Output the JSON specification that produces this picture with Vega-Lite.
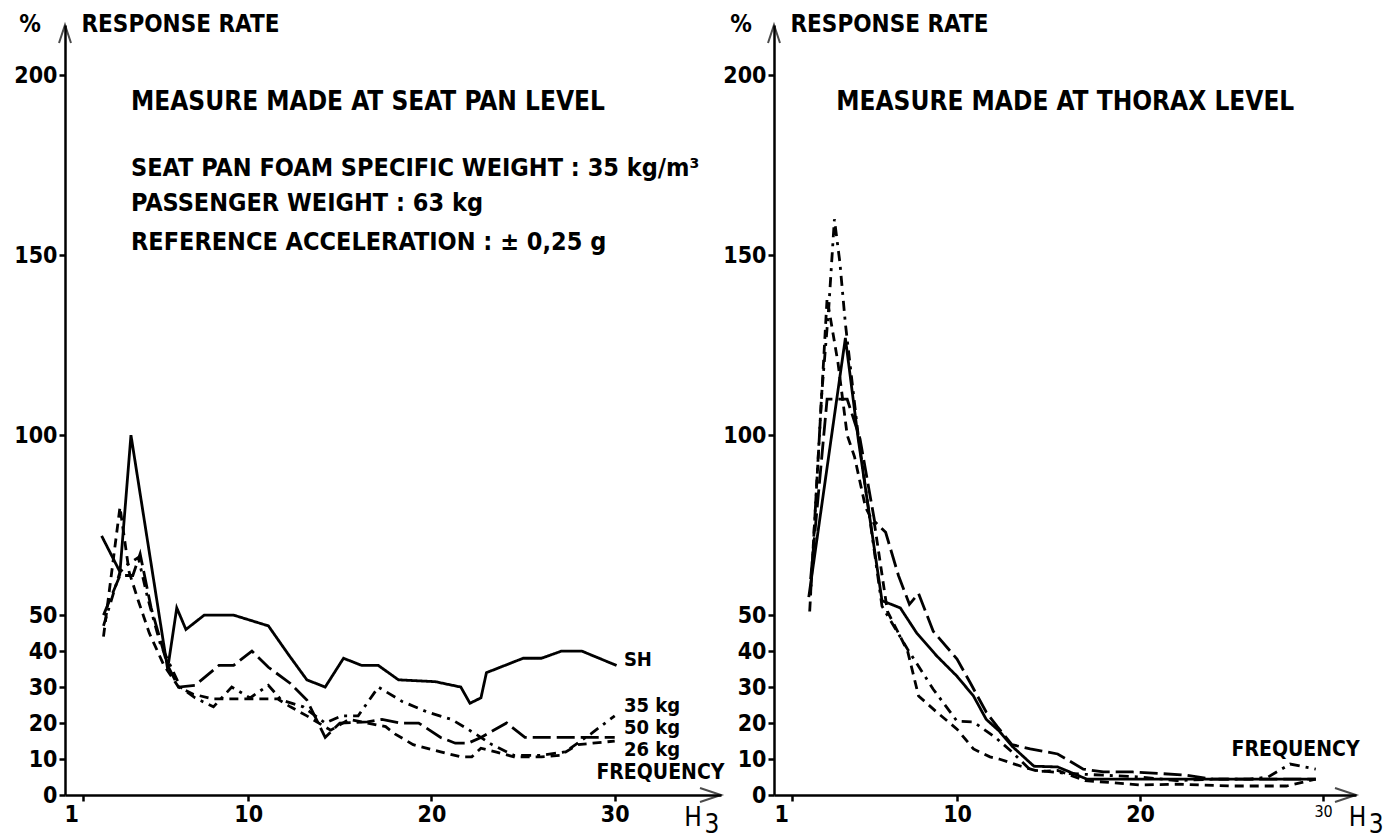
{
  "$schema": "https://vega.github.io/schema/vega-lite/v6.json",
  "autosize": {"type": "pad"},
  "padding": {"left": 13, "top": 13, "right": 5, "bottom": 5},
  "background": "white",
  "spacing": 53,
  "bounds": "flush",
  "config": {
    "view": {"stroke": null},
    "axis": {"domainColor": "black", "domainWidth": 2.5, "tickColor": "black", "tickWidth": 2.5, "labelColor": "black", "labelFont": "DejaVu Sans Condensed", "labelFontWeight": "bold", "labelFontSize": 23, "grid": false, "tickSize": 6, "labelPadding": 2},
    "text": {"font": "DejaVu Sans Condensed", "fontWeight": "bold", "fontSize": 25, "color": "black", "align": "left", "baseline": "middle"}
  },
  "datasets": {
    "left": [
      {"s": "SH", "f": 2, "r": 72}, {"s": "SH", "f": 3, "r": 62}, {"s": "SH", "f": 3.6, "r": 100}, {"s": "SH", "f": 5.6, "r": 35}, {"s": "SH", "f": 6.1, "r": 52}, {"s": "SH", "f": 6.6, "r": 46}, {"s": "SH", "f": 7.6, "r": 50}, {"s": "SH", "f": 9.2, "r": 50}, {"s": "SH", "f": 11.1, "r": 47}, {"s": "SH", "f": 12.2, "r": 39}, {"s": "SH", "f": 13.2, "r": 32}, {"s": "SH", "f": 14.2, "r": 30}, {"s": "SH", "f": 15.2, "r": 38}, {"s": "SH", "f": 16.2, "r": 36}, {"s": "SH", "f": 17.1, "r": 36}, {"s": "SH", "f": 18.2, "r": 32}, {"s": "SH", "f": 20.2, "r": 31.5}, {"s": "SH", "f": 21.6, "r": 30}, {"s": "SH", "f": 22.1, "r": 25.5}, {"s": "SH", "f": 22.7, "r": 27}, {"s": "SH", "f": 23, "r": 34}, {"s": "SH", "f": 25, "r": 38}, {"s": "SH", "f": 26, "r": 38}, {"s": "SH", "f": 27.1, "r": 40}, {"s": "SH", "f": 28.2, "r": 40}, {"s": "SH", "f": 30.1, "r": 36},
      {"s": "50 kg", "f": 2.1, "r": 50}, {"s": "50 kg", "f": 3, "r": 61}, {"s": "50 kg", "f": 3.7, "r": 61}, {"s": "50 kg", "f": 4.1, "r": 67}, {"s": "50 kg", "f": 4.7, "r": 52}, {"s": "50 kg", "f": 5.6, "r": 36}, {"s": "50 kg", "f": 6.2, "r": 30}, {"s": "50 kg", "f": 7.1, "r": 30.5}, {"s": "50 kg", "f": 8.4, "r": 36}, {"s": "50 kg", "f": 9.2, "r": 36}, {"s": "50 kg", "f": 10.2, "r": 40}, {"s": "50 kg", "f": 11.1, "r": 35.5}, {"s": "50 kg", "f": 12.3, "r": 31}, {"s": "50 kg", "f": 13.2, "r": 26.4}, {"s": "50 kg", "f": 14.2, "r": 16}, {"s": "50 kg", "f": 15, "r": 20}, {"s": "50 kg", "f": 16.5, "r": 20.3}, {"s": "50 kg", "f": 17.3, "r": 21}, {"s": "50 kg", "f": 18.3, "r": 20}, {"s": "50 kg", "f": 19.3, "r": 20}, {"s": "50 kg", "f": 20.5, "r": 16}, {"s": "50 kg", "f": 21.3, "r": 14.4}, {"s": "50 kg", "f": 22, "r": 14.4}, {"s": "50 kg", "f": 22.7, "r": 16}, {"s": "50 kg", "f": 24.1, "r": 20}, {"s": "50 kg", "f": 25.1, "r": 16}, {"s": "50 kg", "f": 30, "r": 16},
      {"s": "35 kg", "f": 2.1, "r": 47}, {"s": "35 kg", "f": 3, "r": 62}, {"s": "35 kg", "f": 3.4, "r": 64}, {"s": "35 kg", "f": 4, "r": 66}, {"s": "35 kg", "f": 4.5, "r": 55}, {"s": "35 kg", "f": 5.2, "r": 42}, {"s": "35 kg", "f": 6.3, "r": 30}, {"s": "35 kg", "f": 7.1, "r": 27}, {"s": "35 kg", "f": 8.1, "r": 24.5}, {"s": "35 kg", "f": 9.1, "r": 30}, {"s": "35 kg", "f": 10.1, "r": 27}, {"s": "35 kg", "f": 11.1, "r": 30.5}, {"s": "35 kg", "f": 11.8, "r": 26.4}, {"s": "35 kg", "f": 13, "r": 24.5}, {"s": "35 kg", "f": 14.2, "r": 20}, {"s": "35 kg", "f": 15.1, "r": 22}, {"s": "35 kg", "f": 16, "r": 22}, {"s": "35 kg", "f": 17.1, "r": 30}, {"s": "35 kg", "f": 18.4, "r": 26}, {"s": "35 kg", "f": 19.8, "r": 23}, {"s": "35 kg", "f": 21.1, "r": 21}, {"s": "35 kg", "f": 22.4, "r": 17}, {"s": "35 kg", "f": 23.3, "r": 14}, {"s": "35 kg", "f": 24.5, "r": 11}, {"s": "35 kg", "f": 26, "r": 11}, {"s": "35 kg", "f": 27.3, "r": 12}, {"s": "35 kg", "f": 28.7, "r": 17}, {"s": "35 kg", "f": 30, "r": 22},
      {"s": "26 kg", "f": 2.1, "r": 44}, {"s": "26 kg", "f": 3, "r": 80}, {"s": "26 kg", "f": 3.5, "r": 62}, {"s": "26 kg", "f": 4, "r": 54}, {"s": "26 kg", "f": 4.6, "r": 45}, {"s": "26 kg", "f": 5.4, "r": 36}, {"s": "26 kg", "f": 6.2, "r": 30}, {"s": "26 kg", "f": 7, "r": 28}, {"s": "26 kg", "f": 8.1, "r": 26.7}, {"s": "26 kg", "f": 11.6, "r": 26.7}, {"s": "26 kg", "f": 12.3, "r": 24.5}, {"s": "26 kg", "f": 13.2, "r": 22}, {"s": "26 kg", "f": 14.5, "r": 18}, {"s": "26 kg", "f": 15.5, "r": 21}, {"s": "26 kg", "f": 16.5, "r": 20}, {"s": "26 kg", "f": 17.5, "r": 19}, {"s": "26 kg", "f": 18, "r": 17}, {"s": "26 kg", "f": 19, "r": 14}, {"s": "26 kg", "f": 20.5, "r": 12}, {"s": "26 kg", "f": 21.6, "r": 10.6}, {"s": "26 kg", "f": 22.2, "r": 10.6}, {"s": "26 kg", "f": 22.7, "r": 13}, {"s": "26 kg", "f": 23.5, "r": 12}, {"s": "26 kg", "f": 24.5, "r": 10.6}, {"s": "26 kg", "f": 26, "r": 10.6}, {"s": "26 kg", "f": 27, "r": 11}, {"s": "26 kg", "f": 28, "r": 14}, {"s": "26 kg", "f": 28.8, "r": 14.4}, {"s": "26 kg", "f": 30, "r": 15}
    ],
    "right": [
      {"s": "solid", "f": 1.9, "r": 55}, {"s": "solid", "f": 3.9, "r": 127}, {"s": "solid", "f": 4.6, "r": 99}, {"s": "solid", "f": 5.9, "r": 54}, {"s": "solid", "f": 6.9, "r": 52}, {"s": "solid", "f": 7.8, "r": 45}, {"s": "solid", "f": 8.9, "r": 38.6}, {"s": "solid", "f": 10, "r": 33}, {"s": "solid", "f": 10.9, "r": 27.5}, {"s": "solid", "f": 11.6, "r": 21}, {"s": "solid", "f": 12.3, "r": 17.8}, {"s": "solid", "f": 13, "r": 13.6}, {"s": "solid", "f": 14.2, "r": 8}, {"s": "solid", "f": 15.5, "r": 7.8}, {"s": "solid", "f": 17.1, "r": 4.4}, {"s": "solid", "f": 20, "r": 4.4}, {"s": "solid", "f": 25, "r": 4.4}, {"s": "solid", "f": 29.6, "r": 4.4},
      {"s": "longdash", "f": 2.0, "r": 60}, {"s": "longdash", "f": 2.9, "r": 110}, {"s": "longdash", "f": 4, "r": 110}, {"s": "longdash", "f": 4.7, "r": 99}, {"s": "longdash", "f": 5.5, "r": 76}, {"s": "longdash", "f": 6.1, "r": 73}, {"s": "longdash", "f": 6.8, "r": 61}, {"s": "longdash", "f": 7.4, "r": 53}, {"s": "longdash", "f": 7.9, "r": 56}, {"s": "longdash", "f": 8.7, "r": 45.5}, {"s": "longdash", "f": 10, "r": 37.8}, {"s": "longdash", "f": 10.7, "r": 31.4}, {"s": "longdash", "f": 11.6, "r": 23}, {"s": "longdash", "f": 12.2, "r": 19}, {"s": "longdash", "f": 13, "r": 14}, {"s": "longdash", "f": 14, "r": 12.8}, {"s": "longdash", "f": 15.5, "r": 11.4}, {"s": "longdash", "f": 16.9, "r": 7.2}, {"s": "longdash", "f": 18, "r": 6.4}, {"s": "longdash", "f": 19.6, "r": 6.4}, {"s": "longdash", "f": 21, "r": 6}, {"s": "longdash", "f": 22.5, "r": 5.5}, {"s": "longdash", "f": 24, "r": 4.4}, {"s": "longdash", "f": 26, "r": 4.4}, {"s": "longdash", "f": 29.6, "r": 4.4},
      {"s": "dashdot", "f": 1.95, "r": 51}, {"s": "dashdot", "f": 2.6, "r": 111}, {"s": "dashdot", "f": 3, "r": 136}, {"s": "dashdot", "f": 3.3, "r": 160}, {"s": "dashdot", "f": 3.6, "r": 148}, {"s": "dashdot", "f": 3.9, "r": 131}, {"s": "dashdot", "f": 4.6, "r": 100}, {"s": "dashdot", "f": 5.9, "r": 52.5}, {"s": "dashdot", "f": 7.3, "r": 40.5}, {"s": "dashdot", "f": 8.7, "r": 29.4}, {"s": "dashdot", "f": 10, "r": 20.5}, {"s": "dashdot", "f": 10.9, "r": 20.3}, {"s": "dashdot", "f": 12.1, "r": 16}, {"s": "dashdot", "f": 13, "r": 12}, {"s": "dashdot", "f": 14, "r": 7}, {"s": "dashdot", "f": 16, "r": 6}, {"s": "dashdot", "f": 18, "r": 5.5}, {"s": "dashdot", "f": 20, "r": 5}, {"s": "dashdot", "f": 22, "r": 4}, {"s": "dashdot", "f": 24, "r": 4.4}, {"s": "dashdot", "f": 26, "r": 4.4}, {"s": "dashdot", "f": 27, "r": 5}, {"s": "dashdot", "f": 28.2, "r": 8.6}, {"s": "dashdot", "f": 29.6, "r": 7.2},
      {"s": "shortdash", "f": 2.0, "r": 56}, {"s": "shortdash", "f": 2.9, "r": 138}, {"s": "shortdash", "f": 3.5, "r": 120}, {"s": "shortdash", "f": 4, "r": 100}, {"s": "shortdash", "f": 4.4, "r": 94}, {"s": "shortdash", "f": 5, "r": 80}, {"s": "shortdash", "f": 5.5, "r": 75}, {"s": "shortdash", "f": 6.2, "r": 51}, {"s": "shortdash", "f": 7.3, "r": 40}, {"s": "shortdash", "f": 7.9, "r": 27.5}, {"s": "shortdash", "f": 8.9, "r": 23}, {"s": "shortdash", "f": 10, "r": 18.3}, {"s": "shortdash", "f": 10.9, "r": 12.8}, {"s": "shortdash", "f": 11.8, "r": 10.6}, {"s": "shortdash", "f": 12.3, "r": 10}, {"s": "shortdash", "f": 13.5, "r": 8}, {"s": "shortdash", "f": 14.5, "r": 6.5}, {"s": "shortdash", "f": 15.5, "r": 6.8}, {"s": "shortdash", "f": 17, "r": 4}, {"s": "shortdash", "f": 20, "r": 2.8}, {"s": "shortdash", "f": 22, "r": 3}, {"s": "shortdash", "f": 25, "r": 2.5}, {"s": "shortdash", "f": 28, "r": 2.5}, {"s": "shortdash", "f": 29.6, "r": 4.4}
    ]
  },
  "hconcat": [
    {
      "width": 656,
      "height": 770,
      "encoding": {
        "x": {"type": "quantitative", "title": null, "scale": {"domain": [0, 35.8], "nice": false, "zero": false},
              "axis": {"values": [1, 10, 20, 30], "labelOffset": {"condition": {"test": "datum.value == 1", "value": -12}, "value": 0}}},
        "y": {"type": "quantitative", "title": null, "scale": {"domain": [0, 214], "nice": false, "zero": false},
              "axis": {"values": [0, 10, 20, 30, 40, 50, 100, 150, 200]}}
      },
      "layer": [
        {
          "data": {"name": "left"},
          "mark": {"type": "line", "color": "black", "strokeWidth": 2.8},
          "encoding": {
            "x": {"field": "f", "type": "quantitative"},
            "y": {"field": "r", "type": "quantitative"},
            "strokeDash": {"field": "s", "type": "nominal", "legend": null,
              "scale": {"domain": ["SH", "50 kg", "35 kg", "26 kg"], "range": [[1, 0], [18, 6], [10, 6, 3, 6], [9, 6]]}}
          }
        },
        {
          "data": {"values": [{}]},
          "mark": {"type": "point", "shape": "M-1,3L0,0L1,3", "size": 144, "filled": false, "stroke": "black", "strokeWidth": 2, "clip": false},
          "encoding": {"x": {"datum": 0}, "y": {"datum": 214}}
        },
        {
          "data": {"values": [{}]},
          "mark": {"type": "point", "shape": "M-3,-1L0,0L-3,1", "size": 196, "filled": false, "stroke": "black", "strokeWidth": 2, "clip": false},
          "encoding": {"x": {"datum": 35.8}, "y": {"datum": 0}}
        },
        {"data": {"values": [{}]}, "mark": {"type": "text", "text": "%", "align": "center", "fontSize": 24}, "encoding": {"x": {"datum": -1.9}, "y": {"datum": 214}}},
        {"data": {"values": [{}]}, "mark": {"type": "text", "text": "RESPONSE RATE", "fontSize": 24}, "encoding": {"x": {"datum": 0.9}, "y": {"datum": 214}}},
        {"data": {"values": [{}]}, "mark": {"type": "text", "text": "MEASURE MADE AT SEAT PAN LEVEL", "fontSize": 26}, "encoding": {"x": {"datum": 3.6}, "y": {"datum": 192.5}}},
        {"data": {"values": [{}]}, "mark": {"type": "text", "text": "SEAT PAN FOAM SPECIFIC WEIGHT : 35 kg/m³"}, "encoding": {"x": {"datum": 3.6}, "y": {"datum": 174.2}}},
        {"data": {"values": [{}]}, "mark": {"type": "text", "text": "PASSENGER WEIGHT : 63 kg"}, "encoding": {"x": {"datum": 3.6}, "y": {"datum": 164.4}}},
        {"data": {"values": [{}]}, "mark": {"type": "text", "text": "REFERENCE ACCELERATION : ± 0,25 g"}, "encoding": {"x": {"datum": 3.6}, "y": {"datum": 153.6}}},
        {"data": {"values": [{}]}, "mark": {"type": "text", "text": "SH", "fontSize": 20}, "encoding": {"x": {"datum": 30.5}, "y": {"datum": 37.5}}},
        {"data": {"values": [{}]}, "mark": {"type": "text", "text": "35 kg", "fontSize": 20}, "encoding": {"x": {"datum": 30.5}, "y": {"datum": 24.6}}},
        {"data": {"values": [{}]}, "mark": {"type": "text", "text": "50 kg", "fontSize": 20}, "encoding": {"x": {"datum": 30.5}, "y": {"datum": 18.6}}},
        {"data": {"values": [{}]}, "mark": {"type": "text", "text": "26 kg", "fontSize": 20}, "encoding": {"x": {"datum": 30.5}, "y": {"datum": 12.6}}},
        {"data": {"values": [{}]}, "mark": {"type": "text", "text": "FREQUENCY", "fontSize": 21}, "encoding": {"x": {"datum": 29.0}, "y": {"datum": 6.0}}},
        {"data": {"values": [{}]}, "mark": {"type": "text", "text": "H", "fontSize": 26, "fontWeight": "normal"}, "encoding": {"x": {"datum": 33.8}, "y": {"datum": -6.3}}},
        {"data": {"values": [{}]}, "mark": {"type": "text", "text": "3", "fontSize": 26, "fontWeight": "normal"}, "encoding": {"x": {"datum": 34.9}, "y": {"datum": -8.3}}}
      ]
    },
    {
      "width": 582,
      "height": 770,
      "encoding": {
        "x": {"type": "quantitative", "title": null, "scale": {"domain": [0, 31.8], "nice": false, "zero": false},
              "axis": {"values": [1, 10, 20, 30], "labelOffset": {"condition": {"test": "datum.value == 1", "value": -11}, "value": 0}, "labelFontSize": {"condition": {"test": "datum.value == 30", "value": 16}, "value": 23}, "labelFontWeight": {"condition": {"test": "datum.value == 30", "value": "normal"}, "value": "bold"}}},
        "y": {"type": "quantitative", "title": null, "scale": {"domain": [0, 214], "nice": false, "zero": false},
              "axis": {"values": [0, 10, 20, 30, 40, 50, 100, 150, 200]}}
      },
      "layer": [
        {
          "data": {"name": "right"},
          "mark": {"type": "line", "color": "black", "strokeWidth": 2.8},
          "encoding": {
            "x": {"field": "f", "type": "quantitative"},
            "y": {"field": "r", "type": "quantitative"},
            "strokeDash": {"field": "s", "type": "nominal", "legend": null,
              "scale": {"domain": ["solid", "longdash", "dashdot", "shortdash"], "range": [[1, 0], [18, 6], [14, 5, 3, 5], [7, 6]]}}
          }
        },
        {
          "data": {"values": [{}]},
          "mark": {"type": "point", "shape": "M-1,3L0,0L1,3", "size": 144, "filled": false, "stroke": "black", "strokeWidth": 2, "clip": false},
          "encoding": {"x": {"datum": 0}, "y": {"datum": 214}}
        },
        {
          "data": {"values": [{}]},
          "mark": {"type": "point", "shape": "M-3,-1L0,0L-3,1", "size": 196, "filled": false, "stroke": "black", "strokeWidth": 2, "clip": false},
          "encoding": {"x": {"datum": 31.8}, "y": {"datum": 0}}
        },
        {"data": {"values": [{}]}, "mark": {"type": "text", "text": "%", "align": "center", "fontSize": 24}, "encoding": {"x": {"datum": -1.8}, "y": {"datum": 214}}},
        {"data": {"values": [{}]}, "mark": {"type": "text", "text": "RESPONSE RATE", "fontSize": 24}, "encoding": {"x": {"datum": 0.9}, "y": {"datum": 214}}},
        {"data": {"values": [{}]}, "mark": {"type": "text", "text": "MEASURE MADE AT THORAX LEVEL", "fontSize": 26}, "encoding": {"x": {"datum": 3.4}, "y": {"datum": 192.5}}},
        {"data": {"values": [{}]}, "mark": {"type": "text", "text": "FREQUENCY", "fontSize": 21}, "encoding": {"x": {"datum": 25.0}, "y": {"datum": 12.5}}},
        {"data": {"values": [{}]}, "mark": {"type": "text", "text": "H", "fontSize": 26, "fontWeight": "normal"}, "encoding": {"x": {"datum": 31.4}, "y": {"datum": -6.3}}},
        {"data": {"values": [{}]}, "mark": {"type": "text", "text": "3", "fontSize": 26, "fontWeight": "normal"}, "encoding": {"x": {"datum": 32.5}, "y": {"datum": -8.3}}}
      ]
    }
  ]
}
